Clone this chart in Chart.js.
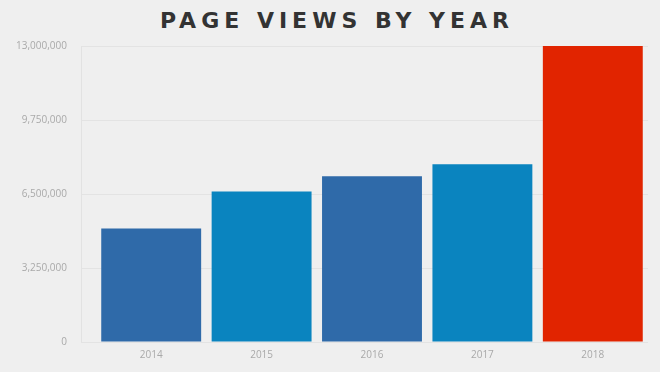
<!DOCTYPE html>
<html lang="en">
<head>
  <meta charset="UTF-8">
  <title>Page Views By Year</title>
  <script src="https://cdn.jsdelivr.net/npm/chart.js"></script>
  <style>
    html, body { margin: 0; padding: 0; background: #efefef; }
    #title {
      height: 26px;
      line-height: 42px;
      text-align: center;
      padding-left: 14px;
      font-family: "DejaVu Sans", sans-serif;
      font-weight: bold;
      font-size: 22px;
      letter-spacing: 5px;
      color: #333;
      white-space: nowrap;
    }
    #wrap { width: 660px; height: 346px; }
  </style>
</head>
<body>

<div id="title">PAGE VIEWS BY YEAR</div>
<div id="wrap"><canvas id="myChart" width="660" height="346"></canvas></div>

<script>
  const years = ['2014', '2015', '2016', '2017', '2018'];
  const pageViews = [4990000, 6610000, 7280000, 7810000, 13000000];
  const barColors = ['#2f6aa9', '#0a84bf', '#2f6aa9', '#0a84bf', '#e12400'];
  const yTicks = [0, 3250000, 6500000, 9750000, 13000000];

  // thin vertical rule at the left end of the gridlines
  const leftRule = {
    id: 'leftRule',
    beforeDatasetsDraw(chart) {
      const a = chart.chartArea;
      const c = chart.ctx;
      c.save();
      c.strokeStyle = '#e2e2e2';
      c.lineWidth = 1;
      c.beginPath();
      c.moveTo(a.left - 14.5, a.top);
      c.lineTo(a.left - 14.5, a.bottom);
      c.stroke();
      c.restore();
    }
  };

  const ctx = document.getElementById('myChart').getContext('2d');

  const myChart = new Chart(ctx, {
    type: 'bar',
    data: {
      labels: years,
      datasets: [{
        label: 'Page views',
        data: pageViews,
        backgroundColor: barColors,
        borderWidth: 0,
        barPercentage: 0.905,
        categoryPercentage: 1
      }]
    },
    options: {
      responsive: false,
      animation: false,
      layout: { padding: { top: 0, right: 12, bottom: 4, left: 0 } },
      plugins: {
        legend: { display: false },
        tooltip: { enabled: false }
      },
      scales: {
        x: {
          grid: { display: false, drawTicks: false },
          border: { display: false },
          ticks: {
            padding: 7,
            color: '#a9a9a9',
            font: { family: 'Open Sans', size: 10 }
          }
        },
        y: {
          min: 0,
          max: yTicks[yTicks.length - 1],
          afterFit(scale) { scale.width = 96; },
          afterBuildTicks(scale) { scale.ticks = yTicks.map(v => ({ value: v })); },
          grid: { color: '#e3e3e3', tickLength: 15 },
          border: { display: false },
          ticks: {
            padding: 14,
            color: '#a9a9a9',
            font: { family: 'Open Sans', size: 10 },
            callback: v => v.toLocaleString('en-US')
          }
        }
      }
    },
    plugins: [leftRule]
  });
</script>

</body>
</html>
